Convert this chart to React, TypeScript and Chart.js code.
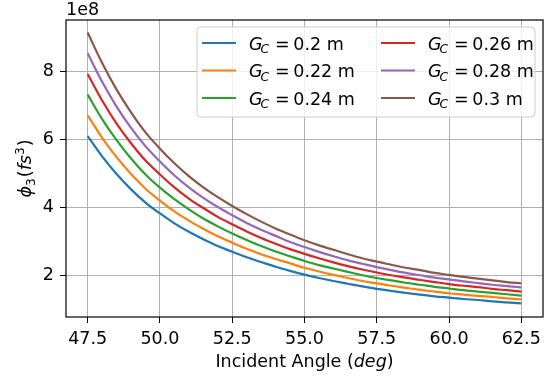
import React, { useEffect, useRef } from "react";
import { Chart, registerables } from "chart.js";

Chart.register(...registerables);

// Incident angle (deg)
const angles = [
  47.5, 48, 48.5, 49, 49.5, 50, 50.5, 51, 51.5, 52, 52.5, 53, 53.5, 54, 54.5, 55,
  55.5, 56, 56.5, 57, 57.5, 58, 58.5, 59, 59.5, 60, 60.5, 61, 61.5, 62, 62.5,
];

// phi_3 values in units of 1e8 fs^3
const phiG020 = [6.10, 5.50, 4.98, 4.53, 4.14, 3.82, 3.53, 3.28, 3.06, 2.86, 2.69, 2.53, 2.39, 2.25, 2.13, 2.02, 1.92, 1.83, 1.75, 1.67, 1.60, 1.54, 1.48, 1.43, 1.38, 1.34, 1.30, 1.27, 1.23, 1.20, 1.17];
const phiG022 = [6.71, 6.05, 5.48, 4.98, 4.55, 4.20, 3.88, 3.61, 3.37, 3.15, 2.96, 2.78, 2.62, 2.48, 2.35, 2.22, 2.11, 2.01, 1.92, 1.83, 1.76, 1.69, 1.63, 1.57, 1.52, 1.47, 1.43, 1.39, 1.36, 1.32, 1.29];
const phiG024 = [7.32, 6.60, 5.98, 5.44, 4.97, 4.58, 4.24, 3.94, 3.67, 3.44, 3.23, 3.04, 2.86, 2.70, 2.56, 2.42, 2.30, 2.20, 2.10, 2.00, 1.92, 1.85, 1.78, 1.72, 1.66, 1.61, 1.56, 1.52, 1.48, 1.44, 1.40];
const phiG026 = [7.93, 7.15, 6.47, 5.89, 5.38, 4.97, 4.59, 4.26, 3.98, 3.72, 3.50, 3.29, 3.10, 2.93, 2.77, 2.63, 2.50, 2.38, 2.27, 2.17, 2.08, 2.00, 1.93, 1.86, 1.80, 1.74, 1.69, 1.65, 1.60, 1.56, 1.52];
const phiG028 = [8.54, 7.70, 6.97, 6.34, 5.80, 5.35, 4.94, 4.59, 4.28, 4.01, 3.77, 3.54, 3.34, 3.16, 2.98, 2.83, 2.69, 2.56, 2.44, 2.34, 2.24, 2.15, 2.07, 2.00, 1.93, 1.88, 1.82, 1.77, 1.72, 1.68, 1.64];
const phiG030 = [9.15, 8.25, 7.47, 6.80, 6.21, 5.73, 5.30, 4.92, 4.59, 4.30, 4.04, 3.80, 3.58, 3.38, 3.20, 3.03, 2.88, 2.75, 2.62, 2.50, 2.40, 2.31, 2.22, 2.15, 2.07, 2.01, 1.95, 1.90, 1.85, 1.80, 1.76];

const gcValues = ["0.2", "0.22", "0.24", "0.26", "0.28", "0.3"];
const seriesValues = [phiG020, phiG022, phiG024, phiG026, phiG028, phiG030];
const seriesColors = ["#1f77b4", "#ff7f0e", "#2ca02c", "#d62728", "#9467bd", "#8c564b"];

const xTicks = [47.5, 50.0, 52.5, 55.0, 57.5, 60.0, 62.5];
const yTicks = [2, 4, 6, 8];
const yOffsetText = "1e8";
const xTitleMain = "Incident Angle (";
const xTitleItalic = "deg";
const xTitleEnd = ")";

const FONT = "'DejaVu Sans'";
const FS = 17.5;
const SUB = 12.25;

type Seg = { t: string; it?: boolean; s?: number; dy?: number; gap?: number };

function segFont(sg: Seg) {
  return `${sg.it ? "italic " : ""}${sg.s ?? FS}px ${FONT}`;
}
function segsWidth(ctx: CanvasRenderingContext2D, segs: Seg[]) {
  let w = 0;
  for (const sg of segs) {
    ctx.font = segFont(sg);
    w += (sg.gap ?? 0) + ctx.measureText(sg.t).width;
  }
  return w;
}
function drawSegs(ctx: CanvasRenderingContext2D, segs: Seg[], x: number, y: number) {
  ctx.textBaseline = "alphabetic";
  ctx.textAlign = "left";
  let cx = x;
  for (const sg of segs) {
    ctx.font = segFont(sg);
    cx += sg.gap ?? 0;
    ctx.fillText(sg.t, cx, y + (sg.dy ?? 0));
    cx += ctx.measureText(sg.t).width;
  }
}

const decorPlugin = {
  id: "decor",
  afterDatasetsDraw(chart: any) {
    const ctx: CanvasRenderingContext2D = chart.ctx;
    const a = chart.chartArea;
    ctx.save();
    // spines
    ctx.strokeStyle = "#000";
    ctx.lineWidth = 1.2;
    ctx.strokeRect(a.left, a.top, a.right - a.left, a.bottom - a.top);

    // legend
    const bw = 338, bh = 90;
    const bx = a.right - 8 - bw;
    const by = a.top + 7;
    ctx.beginPath();
    if ((ctx as any).roundRect) (ctx as any).roundRect(bx, by, bw, bh, 4);
    else ctx.rect(bx, by, bw, bh);
    ctx.fillStyle = "rgba(255,255,255,0.8)";
    ctx.fill();
    ctx.strokeStyle = "#cccccc";
    ctx.lineWidth = 1;
    ctx.stroke();
    chart.data.datasets.forEach((ds: any, i: number) => {
      const col = Math.floor(i / 3);
      const row = i % 3;
      const lx = bx + 5 + col * 179;
      const ly = by + 16 + row * 27.5;
      ctx.strokeStyle = ds.borderColor;
      ctx.lineWidth = 2.2;
      ctx.beginPath();
      ctx.moveTo(lx, ly);
      ctx.lineTo(lx + 34, ly);
      ctx.stroke();
      ctx.fillStyle = "#000";
      drawSegs(
        ctx,
        [
          { t: "G", it: true },
          { t: "C", it: true, s: SUB, dy: 3.5, gap: -2 },
          { t: "=", gap: 6 },
          { t: gcValues[i], gap: 3.5 },
          { t: " m" },
        ],
        lx + 47,
        ly + 6.5
      );
    });

    // offset text
    ctx.fillStyle = "#000";
    drawSegs(ctx, [{ t: yOffsetText }], a.left, a.top - 5);

    // x title
    const xs: Seg[] = [{ t: xTitleMain }, { t: xTitleItalic, it: true }, { t: xTitleEnd }];
    const xw = segsWidth(ctx, xs);
    drawSegs(ctx, xs, (a.left + a.right) / 2 - xw / 2, 367);

    // y title
    const ys: Seg[] = [
      { t: "\u03d5", it: true },
      { t: "3", s: SUB, dy: 3.5 },
      { t: "(", gap: 1 },
      { t: "fs", it: true },
      { t: "3", s: SUB, dy: -7 },
      { t: ")", gap: 1 },
    ];
    const yw = segsWidth(ctx, ys);
    ctx.translate(31, (a.top + a.bottom) / 2);
    ctx.rotate(-Math.PI / 2);
    drawSegs(ctx, ys, -yw / 2, 0);
    ctx.restore();
  },
};

export default function App() {
  const ref = useRef<HTMLCanvasElement | null>(null);
  useEffect(() => {
    if (!ref.current) return;
    const chart = new Chart(ref.current, {
      type: "line",
      data: {
        datasets: seriesValues.map((vals, i) => ({
          label: `G_C = ${gcValues[i]} m`,
          data: angles.map((x, j) => ({ x, y: vals[j] })),
          borderColor: seriesColors[i],
          backgroundColor: seriesColors[i],
          borderWidth: 2.2,
          pointRadius: 0,
          fill: false,
          cubicInterpolationMode: "monotone" as const,
        })),
      },
      options: {
        responsive: false,
        animation: false,
        devicePixelRatio: 1,
        layout: { padding: { left: 0, top: 20, right: 5, bottom: 0 } },
        plugins: { legend: { display: false }, tooltip: { enabled: false } },
        scales: {
          x: {
            type: "linear",
            min: 46.75,
            max: 63.25,
            afterBuildTicks: (s: any) => {
              s.ticks = xTicks.map((v) => ({ value: v }));
            },
            afterFit: (s: any) => {
              s.height = 63;
            },
            ticks: {
              autoSkip: false,
              maxRotation: 0,
              color: "#000",
              padding: 6,
              font: { family: "DejaVu Sans", size: FS },
              callback: (v: any) => Number(v).toFixed(1),
            },
            grid: { color: "#b0b0b0", lineWidth: 1, tickLength: 6, tickColor: "#000" },
            border: { display: false },
          },
          y: {
            type: "linear",
            min: 0.77,
            max: 9.52,
            afterBuildTicks: (s: any) => {
              s.ticks = yTicks.map((v) => ({ value: v }));
            },
            afterFit: (s: any) => {
              s.width = 66;
            },
            ticks: {
              autoSkip: false,
              color: "#000",
              padding: 6,
              font: { family: "DejaVu Sans", size: FS },
              callback: (v: any) => String(v),
            },
            grid: { color: "#b0b0b0", lineWidth: 1, tickLength: 6, tickColor: "#000" },
            border: { display: false },
          },
        },
      },
      plugins: [decorPlugin],
    } as any);
    return () => chart.destroy();
  }, []);
  return (
    <div style={{ position: "fixed", left: 0, top: 0, width: 548, height: 380, background: "#fff" }}>
      <canvas ref={ref} width={548} height={380} style={{ display: "block", width: 548, height: 380 }} />
    </div>
  );
}
